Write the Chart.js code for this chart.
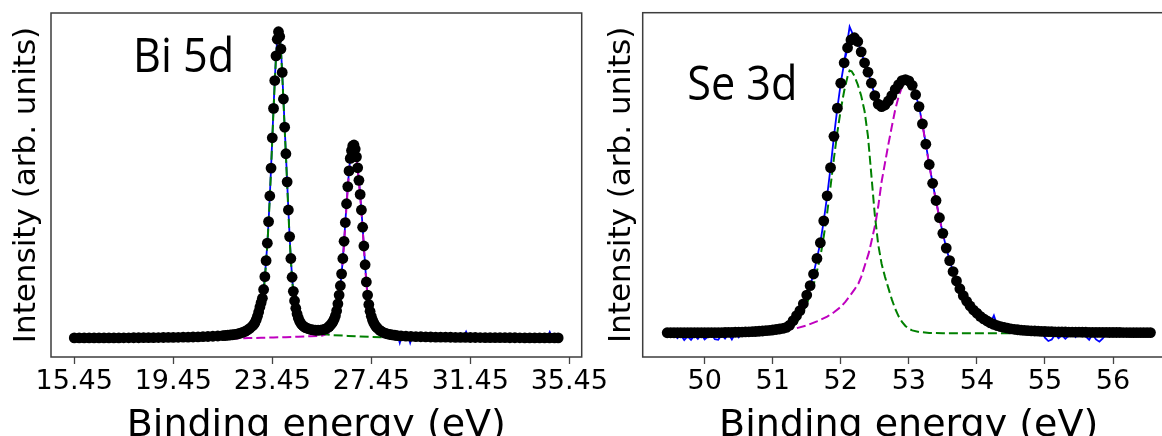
<!DOCTYPE html>
<html>
<head>
<meta charset="utf-8">
<script src="https://cdn.jsdelivr.net/npm/chart.js@4.4.1/dist/chart.umd.min.js"></script>
<style>
    html, body { margin: 0; padding: 0; background: #fff; overflow: hidden; }
    body { width: 1162px; height: 436px; position: relative; }
    canvas { position: absolute; top: 0; }
    #biChart { left: 0; }
    #seChart { left: 600px; }
</style>
</head>
<body>
<canvas id="biChart" width="620" height="436"></canvas>
<canvas id="seChart" width="580" height="436"></canvas>
<script>
// Bi 5d: measured points (black dots), intensity in arb. units
const biEnergy = [
    15.45, 15.65, 15.85, 16.05, 16.25, 16.45, 16.65, 16.85, 17.05, 17.25, 17.45, 17.65, 17.85, 18.05, 18.25, 18.45,
    18.65, 18.85, 19.05, 19.25, 19.45, 19.65, 19.85, 20.05, 20.25, 20.45, 20.65, 20.85, 21.05, 21.25, 21.45,
    21.55, 21.65, 21.75, 21.85, 21.95, 22.05, 22.15, 22.25, 22.35, 22.45, 22.55, 22.65,
    22.70, 22.75, 22.80, 22.85, 22.90, 22.95, 23.00, 23.05, 23.10, 23.15, 23.20, 23.25, 23.30, 23.35, 23.40, 23.45,
    23.50, 23.55, 23.60, 23.65, 23.70, 23.75, 23.80, 23.85, 23.90, 23.95, 24.00, 24.05, 24.10, 24.15, 24.20, 24.25,
    24.30, 24.35, 24.40, 24.45, 24.50, 24.55, 24.60, 24.65, 24.70, 24.75, 24.80,
    24.90, 25.00, 25.10, 25.20, 25.30, 25.40, 25.50, 25.60, 25.70,
    25.75, 25.80, 25.85, 25.90, 25.95, 26.00, 26.05, 26.10, 26.15, 26.20, 26.25, 26.30, 26.35, 26.40, 26.45, 26.50,
    26.55, 26.60, 26.65, 26.70, 26.75, 26.80, 26.85, 26.90, 26.95, 27.00, 27.05, 27.10, 27.15, 27.20, 27.25, 27.30,
    27.35, 27.40, 27.45, 27.50, 27.55, 27.60, 27.65, 27.70,
    27.80, 27.90, 28.00, 28.10, 28.20, 28.30, 28.40, 28.50,
    28.65, 28.85, 29.05, 29.25, 29.45, 29.65, 29.85, 30.05, 30.25, 30.45, 30.65, 30.85, 31.05, 31.25, 31.45, 31.65,
    31.85, 32.05, 32.25, 32.45, 32.65, 32.85, 33.05, 33.25, 33.45, 33.65, 33.85, 34.05, 34.25, 34.45, 34.65, 34.85, 35.00
];
const biCounts = [
    1.10, 1.10, 1.10, 1.10, 1.10, 1.10, 1.10, 1.12, 1.12, 1.12, 1.14, 1.14, 1.16, 1.16, 1.18, 1.20,
    1.20, 1.22, 1.24, 1.26, 1.28, 1.30, 1.33, 1.36, 1.40, 1.44, 1.50, 1.56, 1.64, 1.72, 1.82,
    1.88, 1.95, 2.03, 2.12, 2.25, 2.40, 2.60, 2.85, 3.20, 3.65, 4.20, 4.90,
    5.4, 6.0, 6.9, 8.0, 9.4, 11.0, 12.4, 13.8, 16.6, 20.7, 25.8, 31.4, 38.3, 46.5, 55.4, 65.1,
    74.5, 83.4, 91.3, 96.6, 99.0, 97.5, 93.5, 86.0, 77.5, 68.5, 60.0, 51.0, 42.0, 33.5, 26.5, 20.5,
    16.0, 13.0, 10.6, 8.8, 7.5, 6.5, 5.8, 5.3, 4.9, 4.6, 4.4,
    4.05, 3.8, 3.65, 3.55, 3.55, 3.6, 3.75, 4.0, 4.45,
    4.8, 5.2, 5.7, 6.3, 7.1, 8.2, 9.8, 12.0, 14.8, 17.8, 21.6, 26.5, 32.0, 38.0, 44.0, 49.5,
    54.5, 58.5, 61.0, 62.5, 62.8, 61.5, 59.0, 55.5, 51.5, 47.0, 42.0, 36.5, 30.5, 24.5, 19.0, 14.8,
    11.8, 9.6, 8.0, 6.8, 5.9, 5.2, 4.6, 4.2,
    3.5, 3.0, 2.65, 2.4, 2.2, 2.05, 1.95, 1.85,
    1.75, 1.65, 1.58, 1.52, 1.47, 1.43, 1.40, 1.37, 1.35, 1.33, 1.31, 1.29, 1.27, 1.25, 1.24, 1.23,
    1.22, 1.21, 1.20, 1.19, 1.18, 1.17, 1.16, 1.15, 1.14, 1.13, 1.12, 1.12, 1.11, 1.11, 1.10, 1.10, 1.10
];
// Bi 5d: raw trace where it shows outside the dots (null = gap)
const biRawEnergy = [28.52, 28.60, 28.68, 28.80, 28.94, 29.02, 29.10, 30.00, 31.18, 31.28, 31.38, 33.00, 34.56, 34.66, 34.76];
const biRawCounts = [1.8, -0.5, 1.75, null, 1.6, -0.5, 1.55, null, 1.26, 3.1, 1.25, null, 1.1, 3.0, 1.1];
// Bi 5d fit components
const biGreenEnergy = [
    15.45, 18.00, 20.00, 21.00, 21.50, 22.00, 22.30, 22.50, 22.70, 22.80, 22.90, 23.00, 23.05, 23.10, 23.15, 23.20,
    23.25, 23.30, 23.35, 23.40, 23.45, 23.50, 23.55, 23.60, 23.65, 23.70, 23.75, 23.80, 23.85, 23.90, 23.95, 24.00,
    24.05, 24.10, 24.15, 24.20, 24.25, 24.30, 24.35, 24.40, 24.45, 24.50, 24.60, 24.70, 24.80, 25.00, 25.30, 25.60,
    25.90, 26.50, 27.00, 27.50, 28.00, 28.50, 29.50, 31.00, 35.00
];
const biGreenFit = [
    1.0, 1.02, 1.15, 1.35, 1.55, 1.85, 2.4, 3.2, 4.6, 6.0, 8.6, 11.8, 13.2, 16.0, 20.1, 25.2,
    30.8, 37.7, 45.9, 54.8, 64.5, 73.9, 82.8, 90.7, 96.0, 98.4, 96.9, 92.9, 85.4, 76.9, 67.9, 59.4,
    50.4, 41.4, 32.9, 25.9, 19.9, 15.4, 12.4, 10.0, 8.2, 6.9, 5.1, 4.2, 3.7, 3.1, 2.65, 2.3,
    2.0, 1.75, 1.55, 1.4, 1.3, 1.2, 1.1, 1.05, 1.0
];
const biMagentaEnergy = [
    15.45, 20.00, 22.00, 22.50, 23.00, 23.50, 24.00, 24.50, 25.00, 25.45, 25.70, 25.80, 25.90, 26.00, 26.05, 26.10,
    26.15, 26.20, 26.25, 26.30, 26.35, 26.40, 26.45, 26.50, 26.55, 26.60, 26.65, 26.70, 26.75, 26.80, 26.85, 26.90,
    26.95, 27.00, 27.05, 27.10, 27.15, 27.20, 27.25, 27.30, 27.35, 27.40, 27.45, 27.50, 27.60, 27.70, 27.80, 28.00,
    28.50, 29.00, 30.00, 32.00, 35.00
];
const biMagentaFit = [
    0.85, 0.9, 0.95, 1.05, 1.15, 1.25, 1.35, 1.5, 1.62, 1.8, 2.5, 3.5, 4.8, 6.8, 8.5, 10.8,
    13.7, 16.8, 20.7, 25.7, 31.3, 37.3, 43.4, 48.9, 54.0, 58.0, 60.5, 62.0, 62.3, 61.0, 58.5, 55.0,
    51.0, 46.5, 41.5, 36.0, 30.0, 24.0, 18.6, 14.4, 11.4, 9.2, 7.6, 6.4, 4.8, 3.8, 3.2, 2.4,
    1.65, 1.4, 1.25, 1.15, 1.1
];
const biTicks = [15.45, 19.45, 23.45, 27.45, 31.45, 35.45];
const biTickLabels = ['15.45', '19.45', '23.45', '27.45', '31.45', '35.45'];

// Se 3d: measured points
const seEnergy = [
    49.45, 49.50, 49.55, 49.60, 49.65, 49.70, 49.75, 49.80, 49.85, 49.90, 49.95, 50.00, 50.05, 50.10, 50.15, 50.20,
    50.25, 50.30, 50.35, 50.40, 50.45, 50.50, 50.55, 50.60, 50.65, 50.70, 50.75, 50.80, 50.85, 50.90, 50.95, 51.00,
    51.05, 51.10, 51.15, 51.20, 51.25, 51.30, 51.35, 51.40, 51.45, 51.50, 51.55, 51.60, 51.65, 51.70, 51.75, 51.80,
    51.85, 51.90, 51.95, 52.00, 52.05, 52.10, 52.15, 52.20, 52.25, 52.30, 52.35, 52.40, 52.45, 52.50, 52.55, 52.60,
    52.65, 52.70, 52.75, 52.80, 52.85, 52.90, 52.95, 53.00, 53.05, 53.10, 53.15, 53.20, 53.25, 53.30, 53.35, 53.40,
    53.45, 53.50, 53.55, 53.60, 53.65, 53.70, 53.75, 53.80, 53.85, 53.90, 53.95, 54.00, 54.05, 54.10, 54.15, 54.20,
    54.25, 54.30, 54.35, 54.40, 54.45, 54.50, 54.55, 54.60, 54.65, 54.70, 54.75, 54.80, 54.85, 54.90, 54.95, 55.00,
    55.05, 55.10, 55.15, 55.20, 55.25, 55.30, 55.35, 55.40, 55.45, 55.50, 55.55, 55.60, 55.65, 55.70, 55.75, 55.80,
    55.85, 55.90, 55.95, 56.00, 56.05, 56.10, 56.15, 56.20, 56.25, 56.30, 56.35, 56.40, 56.45, 56.50, 56.55
];
const seCounts = [
    2.75, 2.75, 2.75, 2.75, 2.75, 2.75, 2.75, 2.75, 2.75, 2.75, 2.75, 2.75, 2.75, 2.78, 2.78, 2.80,
    2.80, 2.82, 2.85, 2.87, 2.90, 2.93, 2.97, 3.00, 3.05, 3.10, 3.15, 3.22, 3.30, 3.40, 3.50, 3.62,
    3.78, 3.95, 4.15, 4.45, 5.2, 6.6, 8.2, 9.8, 12.0, 14.8, 17.8, 21.5, 26.5, 31.5, 38.5, 46.5,
    55.5, 65.5, 74.5, 82.5, 89.0, 93.8, 96.3, 97.0, 95.8, 92.5, 89.0, 86.0, 82.5, 78.5, 75.8, 75.0,
    75.5, 76.8, 78.5, 80.5, 82.0, 83.3, 83.6, 83.2, 81.8, 78.8, 75.0, 69.5, 63.0, 56.5, 50.5, 45.0,
    39.5, 34.5, 29.8, 25.8, 22.3, 19.3, 16.8, 14.6, 12.8, 11.3, 10.0, 9.0, 8.0, 7.2, 6.5, 5.9,
    5.4, 5.0, 4.7, 4.45, 4.2, 4.0, 3.85, 3.7, 3.6, 3.5, 3.42, 3.35, 3.3, 3.25, 3.2, 3.15,
    3.1, 3.08, 3.05, 3.02, 3.0, 2.98, 2.96, 2.95, 2.93, 2.92, 2.9, 2.9, 2.88, 2.87, 2.86, 2.85,
    2.85, 2.84, 2.83, 2.83, 2.82, 2.82, 2.81, 2.81, 2.8, 2.8, 2.8, 2.8, 2.8, 2.8, 2.8
];
// Se 3d: raw trace where it shows outside the dots (null = gap)
const seRawEnergy = [
    49.55, 49.60, 49.65, 49.70, 49.75, 49.80, 49.85, 49.90, 49.95, 50.00, 50.05, 50.10, 50.15, 50.20, 50.25, 50.30,
    50.35, 50.40, 50.45, 50.50, 50.55, 50.60, 51.00, 52.05, 52.13, 52.20, 53.00, 54.20, 54.25, 54.30, 54.60,
    54.95, 55.00, 55.05, 55.10, 55.15, 55.20, 55.25, 55.30, 55.35, 55.40, 55.45, 55.50, 55.55, 55.60, 55.65, 55.70,
    55.75, 55.80, 55.85, 55.90, 55.95
];
const seRawCounts = [
    2.7, 1.0, 2.0, 0.4, 1.6, 0.5, 1.9, 0.8, 2.2, 0.6, 1.5, 2.3, 0.7, 0.5, 2.1, 0.9,
    2.4, 0.6, 2.6, 1.3, 2.6, 2.9, null, 89.0, 100.5, 97.0, null, 5.9, 8.3, 5.0, null,
    3.3, 1.2, 0.1, 0.6, 2.2, 1.0, 1.9, 0.8, 1.8, 2.9, 1.4, 2.6, 3.2, 1.6, 0.5, 2.3,
    0.6, -0.1, 0.9, 2.7, 3.0
];
// Se 3d fit components
const seGreenEnergy = [
    49.45, 50.50, 51.00, 51.20, 51.30, 51.35, 51.40, 51.45, 51.50, 51.55, 51.60, 51.65, 51.70, 51.75, 51.80, 51.85,
    51.90, 51.95, 52.00, 52.05, 52.10, 52.13, 52.16, 52.20, 52.25, 52.30, 52.35, 52.40, 52.45, 52.50, 52.55, 52.60,
    52.65, 52.70, 52.75, 52.80, 52.85, 52.90, 52.95, 53.00, 53.05, 53.15, 53.30, 53.50, 56.55
];
const seGreenFit = [
    2.6, 2.6, 2.75, 3.3, 4.6, 6.0, 7.6, 9.6, 12.0, 14.8, 18.0, 22.4, 27.0, 33.5, 41.0, 49.5,
    58.5, 66.8, 74.0, 80.0, 84.6, 86.5, 86.3, 84.8, 82.0, 78.5, 73.5, 65.5, 53.0, 40.5, 31.0, 24.8,
    20.6, 17.0, 13.4, 10.4, 8.0, 6.2, 4.9, 4.0, 3.5, 3.0, 2.7, 2.6, 2.6
];
const seMagentaEnergy = [
    49.45, 50.50, 51.00, 51.20, 51.35, 51.50, 51.65, 51.80, 51.90, 52.00, 52.07, 52.15, 52.20, 52.26, 52.30, 52.35,
    52.41, 52.45, 52.51, 52.55, 52.60, 52.65, 52.70, 52.75, 52.80, 52.85, 52.90, 52.95, 53.00, 53.05, 53.10, 53.15,
    53.20, 53.25, 53.30, 53.35, 53.40, 53.45, 53.50, 53.55, 53.60, 53.65, 53.70, 53.75, 53.80, 53.85, 53.90, 53.95,
    54.00, 54.10, 54.20, 54.30, 54.45, 54.60, 55.00, 55.50, 56.55
];
const seMagentaFit = [
    2.6, 2.7, 3.1, 3.6, 4.2, 5.1, 6.4, 7.9, 9.3, 11.0, 12.7, 15.0, 16.5, 18.5, 20.6, 24.0,
    28.1, 31.8, 37.7, 43.0, 51.0, 57.0, 63.0, 68.6, 74.0, 78.2, 81.3, 82.8, 82.7, 81.3, 78.5, 74.8,
    69.3, 62.8, 56.3, 50.3, 44.8, 39.3, 34.3, 29.6, 25.6, 22.1, 19.1, 16.6, 14.4, 12.6, 11.1, 9.8,
    8.8, 7.0, 5.7, 4.8, 4.0, 3.5, 3.0, 2.8, 2.7
];
const seTicks = [50, 51, 52, 53, 54, 55, 56];
const seTickLabels = ['50', '51', '52', '53', '54', '55', '56'];

/**
 * Two-panel XPS chart
 */
const SpectrumCharts = (function () {
    const axisFont = 'DejaVu Sans';

    function toPoints(xs, ys) {
        return xs.map((x, i) => ({ x, y: ys[i] }));
    }

    // frame around the plot area plus the core-level label
    const panelDecor = {
        id: 'panelDecor',
        afterDraw(chart, args, opts) {
            const { ctx, chartArea: area } = chart;
            ctx.save();
            ctx.strokeStyle = '#3d3d3d';
            ctx.lineWidth = 1.5;
            ctx.strokeRect(area.left, area.top, area.right - area.left, area.bottom - area.top);
            ctx.fillStyle = '#000';
            ctx.font = '48px "Open Sans"';
            ctx.textBaseline = 'alphabetic';
            ctx.translate(area.left + opts.dx, area.top + opts.dy);
            ctx.scale(0.9, 1);
            ctx.fillText(opts.text, 0, 0);
            ctx.restore();
        }
    };

    function dotSet(xs, ys) {
        return {
            data: toPoints(xs, ys),
            showLine: false,
            pointRadius: 5.4,
            pointHoverRadius: 0,
            pointBorderWidth: 0,
            pointBackgroundColor: '#000',
            order: 0,
        };
    }

    function lineSet(xs, ys, color, dashed, order) {
        return {
            data: toPoints(xs, ys),
            showLine: true,
            borderColor: color,
            borderWidth: dashed ? 2 : 1.8,
            borderDash: dashed ? [9, 4] : [],
            pointRadius: 0,
            spanGaps: false,
            fill: false,
            order,
        };
    }

    function createPanel(elId, p) {
        const ctx = document.getElementById(elId)?.getContext('2d');
        if (!ctx) return null;
        return new Chart(ctx, {
            type: 'scatter',
            data: {
                datasets: [
                    dotSet(p.energy, p.counts),
                    lineSet(p.greenEnergy, p.greenFit, '#008000', true, 1),
                    lineSet(p.magentaEnergy, p.magentaFit, '#bf00bf', true, 1),
                    lineSet(p.energy, p.counts, '#0000ff', false, 2),
                    lineSet(p.rawEnergy, p.rawCounts, '#0000ff', false, 2),
                ],
            },
            options: {
                responsive: false,
                animation: false,
                events: [],
                layout: { padding: { top: p.top, right: p.right, bottom: 0, left: 0 } },
                plugins: {
                    legend: { display: false },
                    tooltip: { enabled: false },
                    panelDecor: { text: p.label, dx: p.labelX, dy: p.labelY },
                },
                scales: {
                    x: {
                        type: 'linear',
                        min: p.xMin,
                        max: p.xMax,
                        afterBuildTicks: (scale) => { scale.ticks = p.ticks.map((value) => ({ value })); },
                        afterFit: (scale) => { scale.height = 79; scale.paddingLeft = 0; scale.paddingRight = 0; },
                        ticks: {
                            autoSkip: false,
                            maxRotation: 0,
                            padding: 4,
                            color: '#000',
                            font: { family: axisFont, size: 27, lineHeight: 1 },
                            callback: (v, i) => p.tickLabels[i],
                        },
                        grid: { drawOnChartArea: false, drawTicks: true, tickLength: 7, tickWidth: 1.3, tickColor: '#444' },
                        border: { display: false },
                        title: {
                            display: true,
                            text: 'Binding energy (eV)',
                            color: '#000',
                            font: { family: axisFont, size: 38, lineHeight: 1 },
                            padding: { top: 0, bottom: -9 },
                        },
                    },
                    y: {
                        min: -5,
                        max: 105,
                        afterFit: (scale) => { scale.width = p.yAxisWidth; },
                        ticks: { display: false },
                        grid: { display: false },
                        border: { display: false },
                        title: {
                            display: true,
                            text: 'Intensity (arb. units)',
                            color: '#000',
                            font: { family: axisFont, size: 31 },
                            padding: { top: p.yTitlePad, bottom: 0 },
                        },
                    },
                },
            },
            plugins: [panelDecor],
        });
    }

    return { createPanel };
})();

SpectrumCharts.createPanel('biChart', {
    energy: biEnergy, counts: biCounts,
    rawEnergy: biRawEnergy, rawCounts: biRawCounts,
    greenEnergy: biGreenEnergy, greenFit: biGreenFit,
    magentaEnergy: biMagentaEnergy, magentaFit: biMagentaFit,
    ticks: biTicks, tickLabels: biTickLabels,
    xMin: 14.51, xMax: 35.95,
    top: 13, right: 38.3, yAxisWidth: 51, yTitlePad: 8.4,
    label: 'Bi 5d', labelX: 82, labelY: 59,
});

SpectrumCharts.createPanel('seChart', {
    energy: seEnergy, counts: seCounts,
    rawEnergy: seRawEnergy, rawCounts: seRawCounts,
    greenEnergy: seGreenEnergy, greenFit: seGreenFit,
    magentaEnergy: seMagentaEnergy, magentaFit: seMagentaFit,
    ticks: seTicks, tickLabels: seTickLabels,
    xMin: 49.09, xMax: 56.905,
    top: 12.7, right: 2, yAxisWidth: 42.7, yTitlePad: 3.4,
    label: 'Se 3d', labelX: 44.5, labelY: 87,
});
</script>
</body>
</html>
